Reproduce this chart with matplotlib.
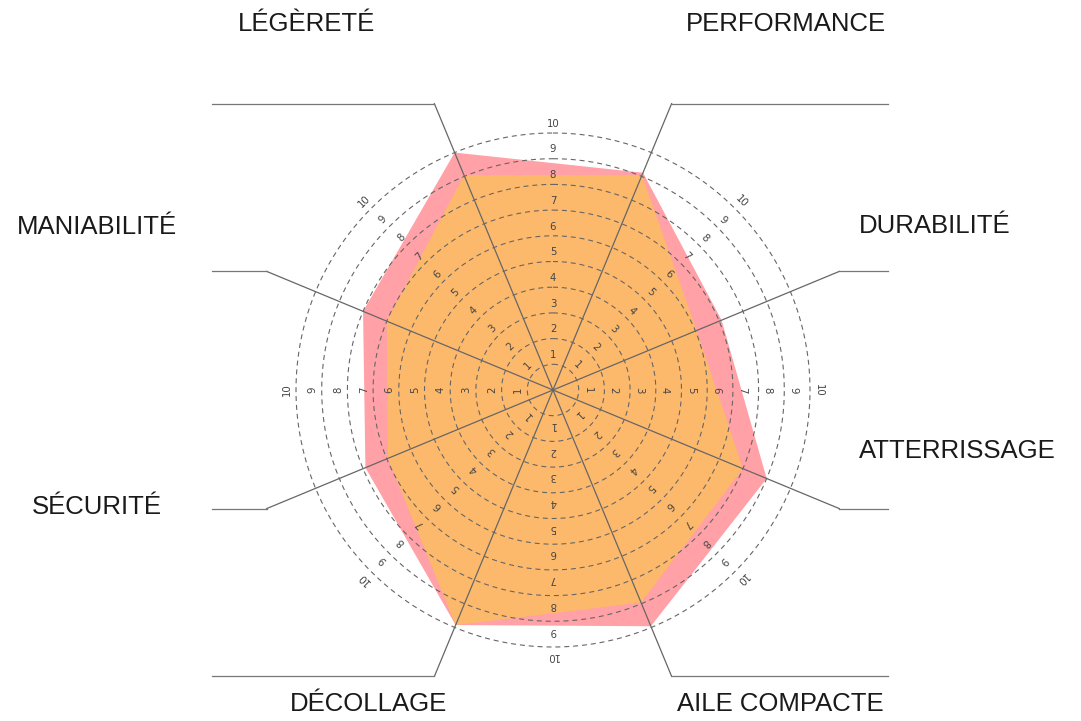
import numpy as np
import matplotlib
matplotlib.use("Agg")
import matplotlib.pyplot as plt

categories = ["LÉGÈRETÉ", "PERFORMANCE", "DURABILITÉ", "ATTERRISSAGE",
              "AILE COMPACTE", "DÉCOLLAGE", "SÉCURITÉ", "MANIABILITÉ"]
pink_values = [10, 9.15, 7.1, 9.0, 9.95, 9.9, 7.9, 8.0]
orange_values = [9.05, 9.05, 6.05, 8.0, 8.95, 9.9, 6.95, 7.0]
scale_ticks = list(range(1, 11))

W, H = 1081, 721
fig = plt.figure(figsize=(W / 100, H / 100), dpi=100)

# polar area: centre at (553, 390) px from top, 10 -> 257 px
cx, cy, R = 553, 390, 257
ax = fig.add_axes([(cx - R) / W, (H - cy - R) / H, 2 * R / W, 2 * R / H],
                  projection="polar")
ax.set_theta_zero_location("N")
ax.set_theta_direction(-1)
ax.set_ylim(0, 10)
ax.grid(False)
ax.set_xticks([])
ax.set_yticks([])
ax.spines["polar"].set_visible(False)
ax.patch.set_alpha(0)

n = len(categories)
angles = np.deg2rad(-22.5 + 45 * np.arange(n))
closed = np.append(angles, angles[0])

ax.fill(closed, pink_values + pink_values[:1], color="#FFA1A6", lw=0, zorder=1)
ax.fill(closed, orange_values + orange_values[:1], color="#FDB96B", lw=0, zorder=2)

# dashed rings
th = np.linspace(0, 2 * np.pi, 721)
for t in scale_ticks:
    ax.plot(th, np.full_like(th, t), ls=(0, (4.5, 3.5)), color="#666666",
            lw=0.8, zorder=3, clip_on=False)

# scale numbers along the mid directions
for k in range(8):
    a = np.deg2rad(45 * k)
    for t in scale_ticks:
        ax.text(a, t + 0.36, str(t), rotation=-45 * k, rotation_mode="anchor",
                ha="center", va="center", fontsize=7.3, color="#444444",
                zorder=5, clip_on=False)

# spokes
R_END = 12.06
for a in angles:
    ax.plot([a, a], [0, R_END], color="#666666", lw=0.9, zorder=4, clip_on=False)

# leader lines in pixel space
ov = fig.add_axes([0, 0, 1, 1])
ov.set_xlim(0, W)
ov.set_ylim(H, 0)
ov.axis("off")
ov.patch.set_alpha(0)
fig.canvas.draw()
for a in angles:
    ex, ey = ax.transData.transform((a, R_END))
    ey = H - ey
    x2 = 212 if ex < cx else 888
    ov.plot([ex, x2], [ey, ey], color="#777777", lw=0.9)

label_pos = [(306, 24), (786, 24), (935, 226), (957, 451),
             (780, 704), (368, 704), (97, 507), (97, 227)]
for name, (x, y) in zip(categories, label_pos):
    ov.text(x, y, name, ha="center", va="center", fontsize=18.5,
            family="Liberation Sans", color="#1a1a1a")

fig.savefig("out.png", dpi=100)
